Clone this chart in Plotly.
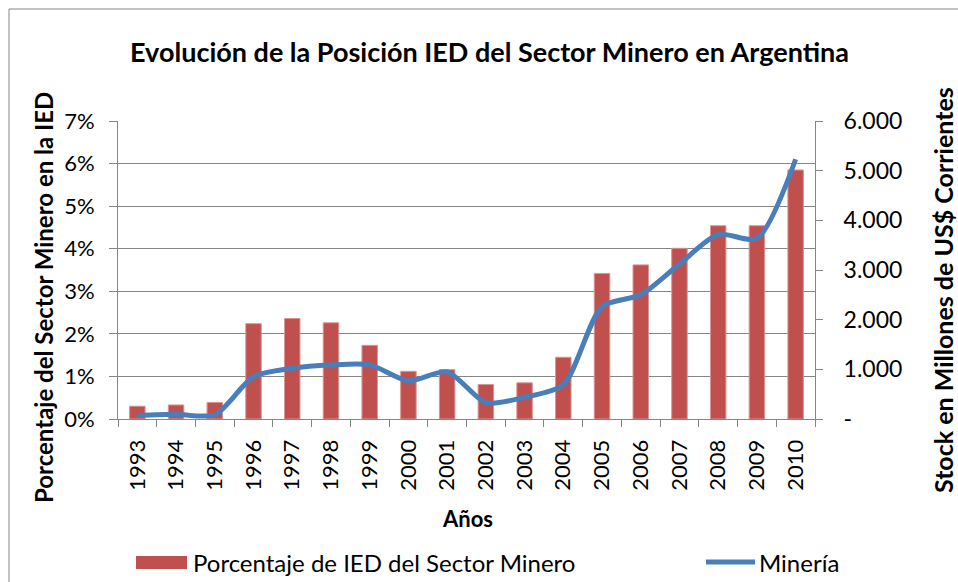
import plotly.graph_objects as go

years = [str(y) for y in range(1993, 2011)]
pct_ied = [0.0030, 0.0033, 0.0039, 0.0224, 0.0236, 0.0226, 0.0173, 0.0112, 0.0116,
           0.0081, 0.0085, 0.0145, 0.0342, 0.0362, 0.0401, 0.0454, 0.0454, 0.0585]
mineria = [70, 95, 85, 850, 1020, 1087, 1090, 770, 950,
           330, 437, 690, 2260, 2500, 3120, 3716, 3636, 5230]

y2_vals = [0, 1000, 2000, 3000, 4000, 5000, 6000]
y2_text = ["-", "1.000", "2.000", "3.000", "4.000", "5.000", "6.000"]

bar_name = "Porcentaje de IED del Sector Minero"
line_name = "Minería"

FONT = "Lato"
grid = "#868686"
BAR_C = "#C0504D"
LINE_C = "#4A7EBB"

# plot area in pixels: x 118..815, y 121..419
L, R, T, B = 118, 815, 121, 419
W, H = R - L, B - T


def px(x):
    return (x - L) / W


def py(y):
    return (B - y) / H


fig = go.Figure()
fig.add_trace(go.Bar(x=years, y=pct_ied, name=bar_name,
                     marker=dict(color=BAR_C, line=dict(color="#D99694", width=1)),
                     width=0.4, yaxis="y", showlegend=False))
fig.add_trace(go.Scatter(x=years, y=mineria, name=line_name, mode="lines",
                         line=dict(color=LINE_C, width=5, shape="spline", smoothing=0.75),
                         yaxis="y2", showlegend=False))

fig.update_layout(
    width=958, height=582,
    margin=dict(l=L, r=958 - R, t=T, b=582 - B, autoexpand=False),
    paper_bgcolor="white", plot_bgcolor="white",
    font=dict(family=FONT, color="black", size=21),
    title=dict(text="<b>Evolución de la Posición IED del Sector Minero en Argentina</b>",
               x=0.511, xanchor="center", y=0.91, yanchor="middle",
               font=dict(family=FONT, size=27)),
    showlegend=False,
    xaxis=dict(type="category", tickangle=-90, showline=True, linecolor=grid, linewidth=1,
               ticks="outside", ticklen=7, tickcolor=grid, tickson="boundaries",
               showgrid=False, tickfont=dict(size=22), automargin=False,
               ticklabelstandoff=11),
    yaxis=dict(range=[0, 0.07], dtick=0.01, tickformat=".0%", showline=True, linecolor=grid,
               linewidth=1, ticks="outside", ticklen=8, tickcolor=grid, showgrid=True,
               gridcolor=grid, gridwidth=1, zeroline=False, tickfont=dict(size=22),
               automargin=False, ticklabelstandoff=10),
    yaxis2=dict(range=[0, 6000], overlaying="y", side="right", tickvals=y2_vals,
                ticktext=y2_text, showline=True, linecolor=grid, linewidth=1,
                ticks="outside", ticklen=7, tickcolor=grid, showgrid=False, zeroline=False,
                tickfont=dict(size=23), automargin=False, ticklabelstandoff=16),
    annotations=[
        dict(text="<b>Porcentaje del Sector Minero en la IED</b>", xref="paper", yref="paper",
             x=px(43), y=py(298), xanchor="center", yanchor="middle", textangle=-90,
             showarrow=False, font=dict(family=FONT, size=24)),
        dict(text="<b>Stock en Millones de US$ Corrientes</b>", xref="paper", yref="paper",
             x=px(943), y=py(290), xanchor="center", yanchor="middle", textangle=-90,
             showarrow=False, font=dict(family=FONT, size=25)),
        dict(text="<b>Años</b>", xref="paper", yref="paper", x=px(467), y=py(518),
             xanchor="center", yanchor="middle", showarrow=False,
             font=dict(family=FONT, size=22)),
        dict(text=bar_name, xref="paper", yref="paper", x=px(191), y=py(562),
             xanchor="left", yanchor="middle", showarrow=False,
             font=dict(family=FONT, size=24)),
        dict(text=line_name, xref="paper", yref="paper", x=px(757), y=py(562),
             xanchor="left", yanchor="middle", showarrow=False,
             font=dict(family=FONT, size=24)),
    ],
    shapes=[
        dict(type="rect", xref="paper", yref="paper", x0=px(9), x1=px(1000), y0=py(640),
             y1=py(9), line=dict(color="#868686", width=1), fillcolor="rgba(0,0,0,0)",
             layer="below"),
        dict(type="rect", xref="paper", yref="paper", x0=px(136), x1=px(187), y0=py(569),
             y1=py(556), line=dict(width=0), fillcolor=BAR_C),
        dict(type="line", xref="paper", yref="paper", x0=px(706), x1=px(755), y0=py(562),
             y1=py(562), line=dict(color=LINE_C, width=5)),
    ],
)

fig.write_html("out.html", config={"displayModeBar": False},
               post_script="document.body.style.margin='0';document.body.style.overflow='hidden';")
